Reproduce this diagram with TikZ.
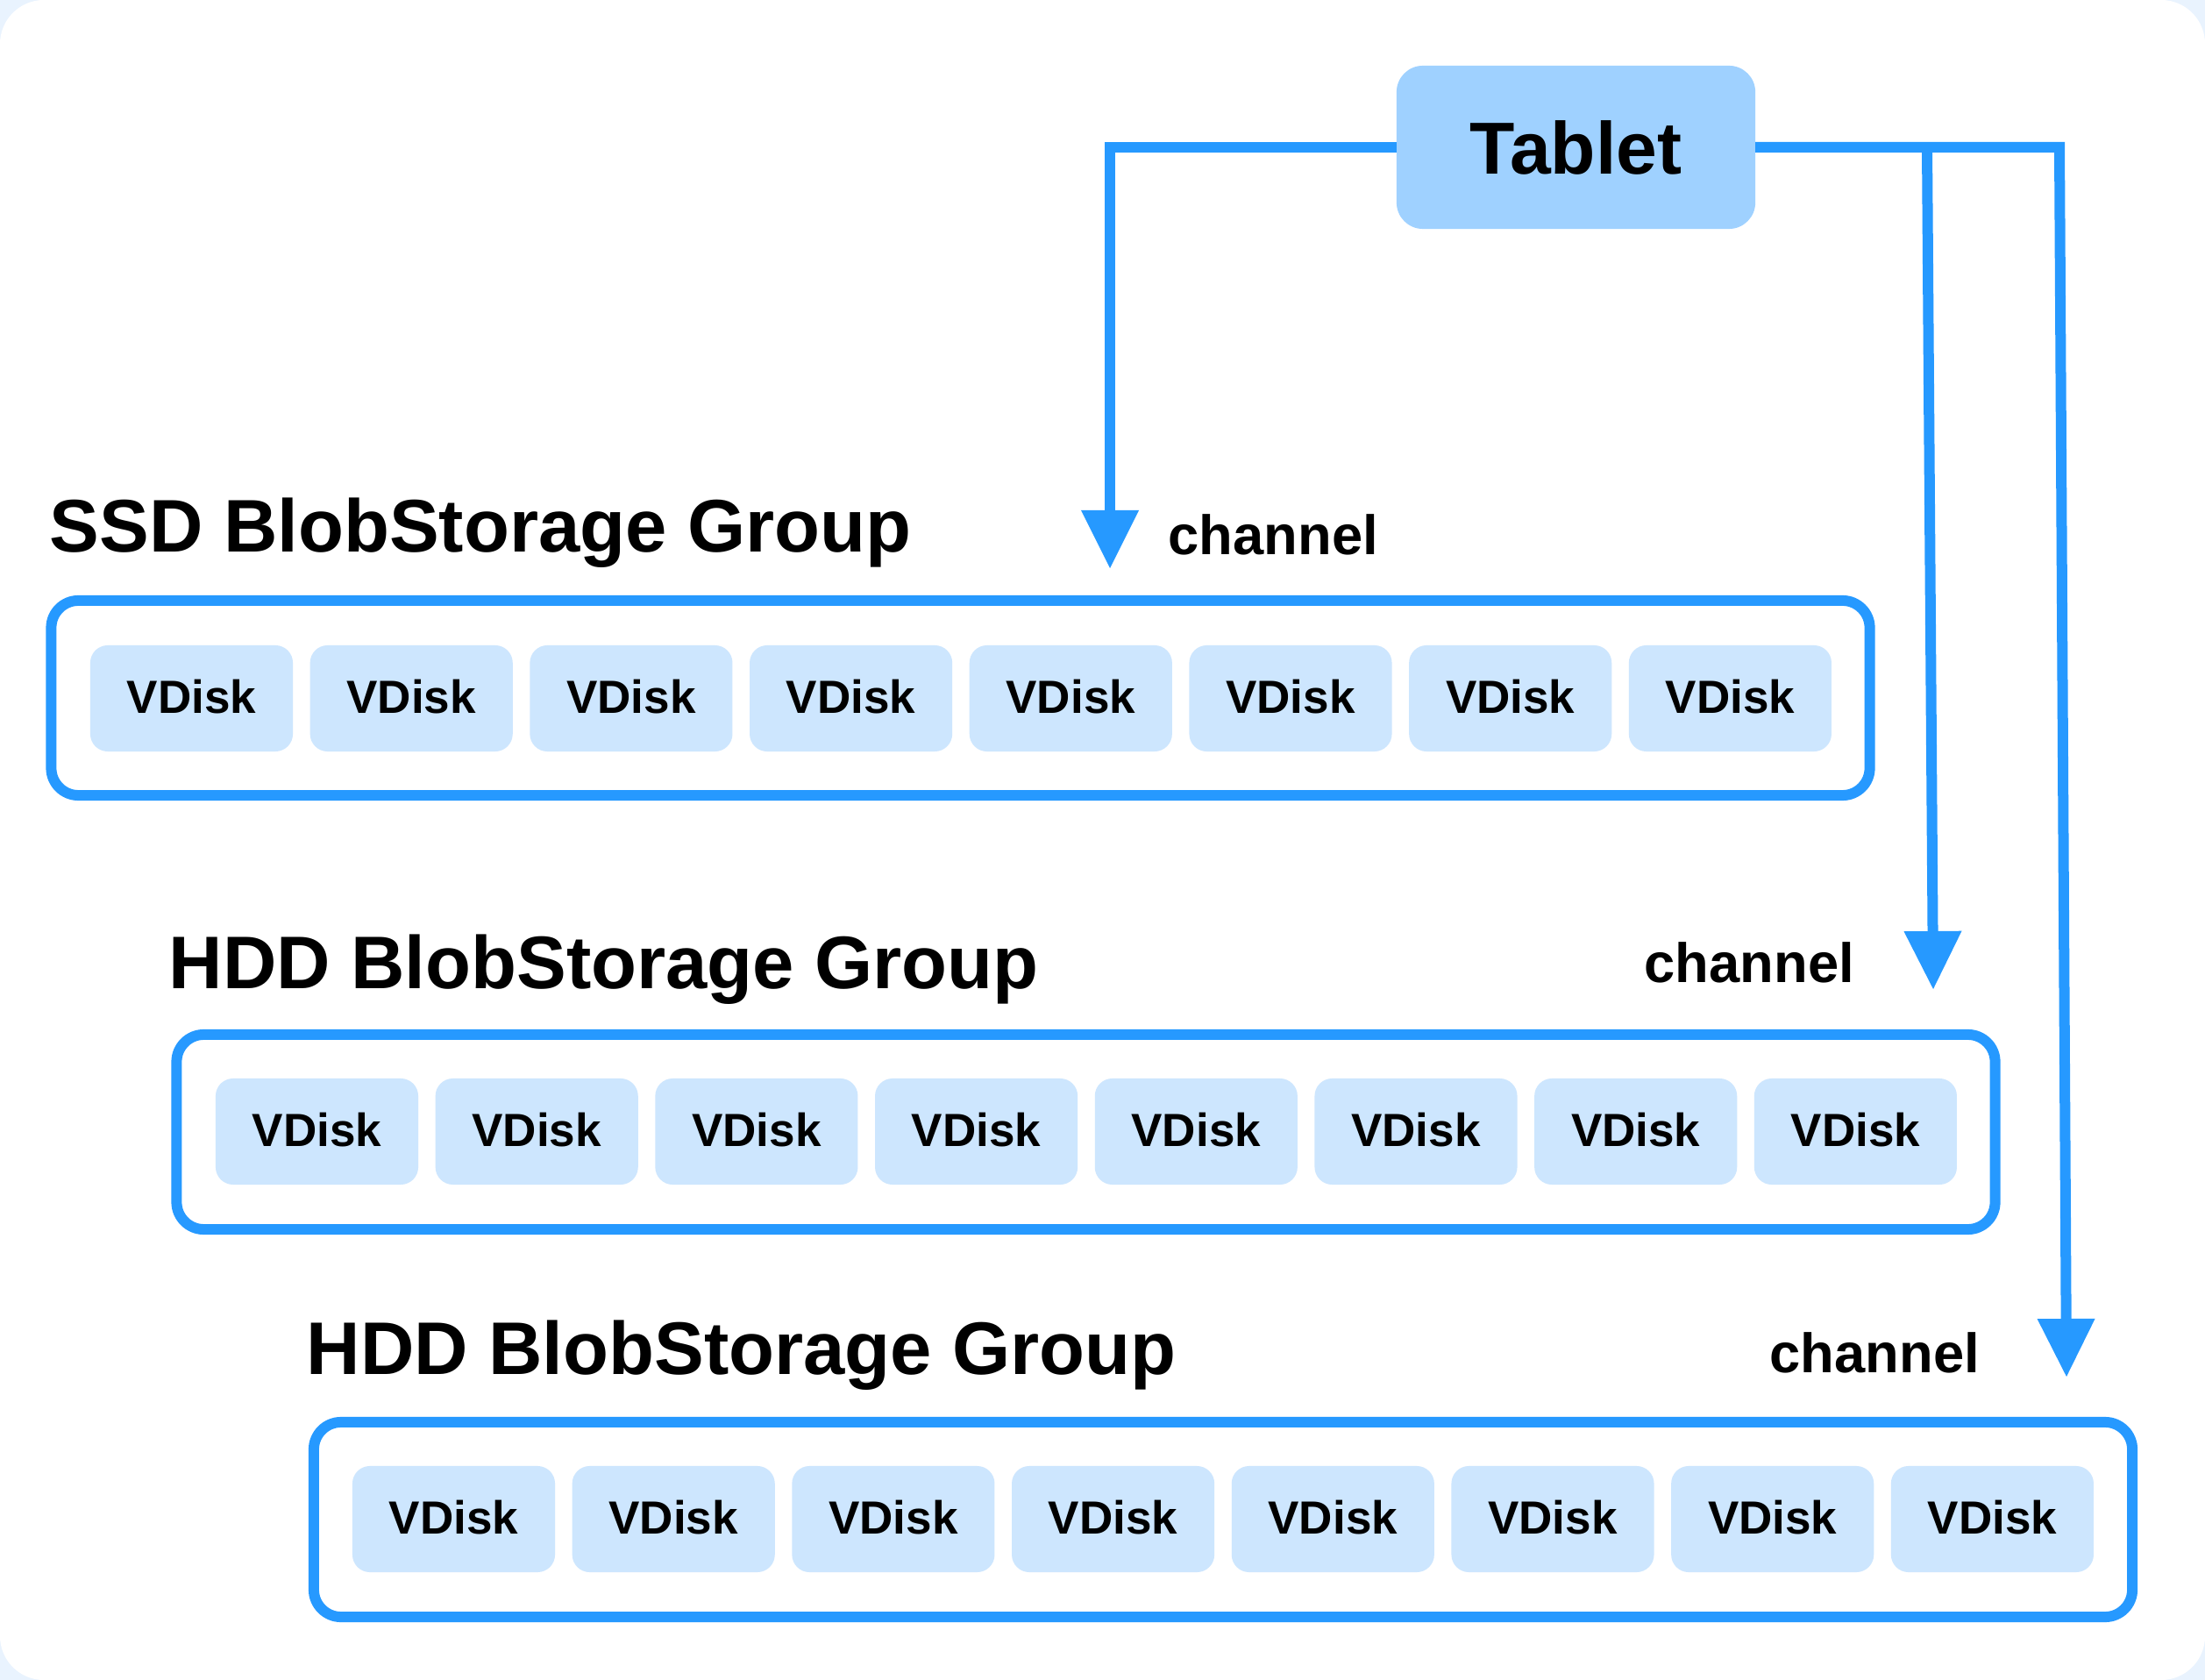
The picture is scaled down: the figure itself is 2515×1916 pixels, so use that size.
\documentclass[tikz,border=0pt]{standalone}
\usepackage{fontspec}
\setmainfont{Liberation Sans}
\usetikzlibrary{arrows.meta}
\definecolor{lineblue}{HTML}{2699FF}
\definecolor{tabletfill}{HTML}{9FD1FF}
\definecolor{vdiskfill}{HTML}{CDE6FE}
\definecolor{bgblue}{HTML}{E9F3FE}
\begin{document}
\begin{tikzpicture}[x=0.01cm,y=-0.01cm,
  frame/.style={draw=lineblue, line width=0.12cm, rounded corners=0.31cm, minimum width=20.73cm, minimum height=2.22cm, inner sep=0pt, outer sep=0pt, fill=white},
  vdisk/.style={fill=vdiskfill, rounded corners=0.2cm, minimum width=2.31cm, minimum height=1.21cm, inner sep=0pt, font=\fontsize{15.08pt}{18pt}\selectfont\bfseries},
  tabletbox/.style={fill=tabletfill, rounded corners=0.3cm, minimum width=4.09cm, minimum height=1.86cm, inner sep=0pt, outer sep=0pt, font=\fontsize{23.9pt}{28pt}\selectfont\bfseries},
  title/.style={anchor=base west, inner sep=0pt, font=\fontsize{24.18pt}{29pt}\selectfont\bfseries},
  chan/.style={anchor=base west, inner sep=0pt, font=\fontsize{18pt}{21pt}\selectfont\bfseries},
  link/.style={draw=lineblue, line width=0.12cm, line join=miter, -{Triangle[width=0.66cm,length=0.66cm,line width=0pt]}}
]
\useasboundingbox (0,0) rectangle (2515,1916);
\fill[bgblue] (0,0) rectangle (2515,1916);
\fill[white, rounded corners=0.5cm] (0,0) rectangle (2515,1916);

% frames
\node[frame] (ssd) at (1095.5,796) {};
\node[frame] (hdda) at (1238.5,1291) {};
\node[frame] (hddb) at (1395,1733) {};

% vdisks
\foreach \i in {0,...,7} {
  \node[vdisk] (ssd\i) at ({218.5+\i*250.7},796.5) {\raisebox{0.05cm}{VDisk}};
  \node[vdisk] (hdda\i) at ({361.5+\i*250.7},1290.5) {\raisebox{0.05cm}{VDisk}};
  \node[vdisk] (hddb\i) at ({517.5+\i*250.7},1732.5) {\raisebox{0.05cm}{VDisk}};
}

% titles
\node[title] (ssdtitle) at (56,630) {SSD BlobStorage Group};
\node[title] (hddatitle) at (192,1127) {HDD BlobStorage Group};
\node[title] (hddbtitle) at (349,1567) {HDD BlobStorage Group};

\node[chan] (ssdchan) at (1332,633) {channel};
\node[chan] (hddachan) at (1875,1120) {channel};
\node[chan] (hddbchan) at (2018,1565) {channel};

% tablet
\node[tabletbox] (tablet) at (1797.5,168) {Tablet};

% connectors
\coordinate (tip1) at (1266,648);
\coordinate (b1top) at (2198,168);
\coordinate (tip2) at (2205,1128);
\coordinate (b2top) at (2349,168);
\coordinate (tip3) at (2357,1570);
\draw[link] (tablet.west) -| (tip1);
\draw[link] (tablet.east) -- (b2top) -- (tip3);
\draw[link] (b1top) -- (tip2);
\end{tikzpicture}
\end{document}
